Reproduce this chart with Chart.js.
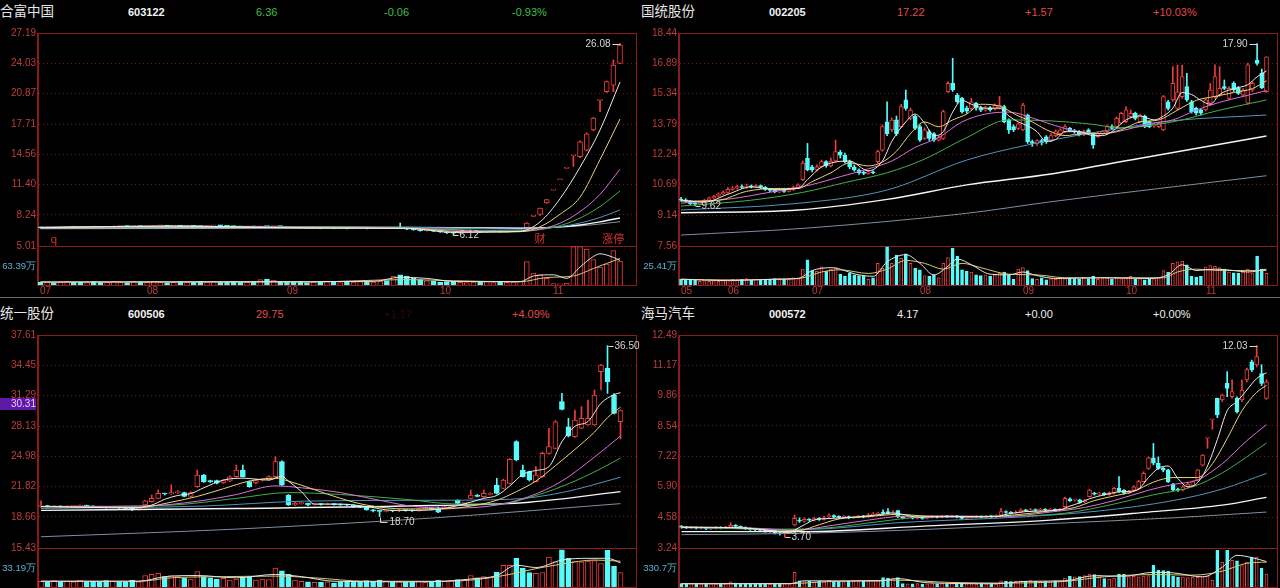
<!DOCTYPE html>
<html>
<head>
<meta charset="utf-8">
<title>四股K线</title>
<script src="https://cdn.jsdelivr.net/npm/chart.js@4.4.1/dist/chart.umd.min.js"></script>
<style>
  html, body { margin: 0; padding: 0; background: #000; }
  body { width: 1280px; height: 588px; position: relative; overflow: hidden; font-family: 'Liberation Sans Narrow', 'Liberation Sans', Arial, sans-serif; }
  canvas { position: absolute; }
  .tt { position: absolute; font-size: 11px; line-height: 14px; white-space: nowrap; }
  .nm { font-family: 'Noto Sans CJK SC', sans-serif; font-size: 13.5px; color: #e6e6e6; top: 4px; }
  .cd { color: #f2f2f2; font-weight: bold; }
  .up { color: #e24a4a; }
  .dn { color: #41be4b; }
  .fl { color: #eeeeee; }
  .hid { color: #2e0707; }
</style>
</head>
<body>

<!-- 标题行 -->
<div class="tt nm" style="left:0px;top:3px">合富中国</div>
<div class="tt cd" style="left:128px;top:5px">603122</div>
<div class="tt dn" style="left:256px;top:5px">6.36</div>
<div class="tt dn" style="left:384px;top:5px">-0.06</div>
<div class="tt dn" style="left:512px;top:5px">-0.93%</div>

<div class="tt nm" style="left:641px;top:3px">国统股份</div>
<div class="tt cd" style="left:769px;top:5px">002205</div>
<div class="tt up" style="left:897px;top:5px">17.22</div>
<div class="tt up" style="left:1025px;top:5px">+1.57</div>
<div class="tt up" style="left:1153px;top:5px">+10.03%</div>

<div class="tt nm" style="left:0px;top:305px">统一股份</div>
<div class="tt cd" style="left:128px;top:307px">600506</div>
<div class="tt up" style="left:256px;top:307px">29.75</div>
<div class="tt hid" style="left:384px;top:307px">+1.17</div>
<div class="tt up" style="left:512px;top:307px">+4.09%</div>

<div class="tt nm" style="left:641px;top:305px">海马汽车</div>
<div class="tt cd" style="left:769px;top:307px">000572</div>
<div class="tt fl" style="left:897px;top:307px">4.17</div>
<div class="tt fl" style="left:1025px;top:307px">+0.00</div>
<div class="tt fl" style="left:1153px;top:307px">+0.00%</div>

<div style="position:absolute;left:0;top:297px;width:1280px;height:1px;background:#6d6d6d"></div>

<canvas id="pc1" width="640" height="227" style="left:0px;top:26px"></canvas>
<canvas id="vc1" width="640" height="53" style="left:0px;top:246px"></canvas>
<canvas id="pc2" width="640" height="227" style="left:641px;top:26px"></canvas>
<canvas id="vc2" width="640" height="53" style="left:641px;top:246px"></canvas>
<canvas id="pc3" width="640" height="227" style="left:0px;top:328px"></canvas>
<canvas id="vc3" width="640" height="53" style="left:0px;top:548px"></canvas>
<canvas id="pc4" width="640" height="227" style="left:641px;top:328px"></canvas>
<canvas id="vc4" width="640" height="53" style="left:641px;top:548px"></canvas>

<div class="tt" style="left:0px;top:398px;width:36px;height:12px;line-height:12px;font-size:10px;background:#5e1aa6;color:#e9c8ff;text-align:right">30.31</div>

<script>
// ===== 合富中国 603122 =====
const p1Ticks = [5.01, 8.24, 11.40, 14.56, 17.71, 20.87, 24.03, 27.19];
// [开, 收, 高, 低]
const p1Candles = [
  [6.95,6.90,7.00,6.85],[6.90,6.92,6.98,6.86],[6.92,6.88,6.95,6.84],[6.88,6.95,7.00,6.86],[6.95,7.02,7.06,6.92],
  [7.02,6.98,7.05,6.95],[6.98,6.96,7.02,6.92],[6.96,7.00,7.04,6.93],[7.00,6.97,7.03,6.94],[6.97,6.95,7.00,6.92],
  [6.95,6.99,7.02,6.93],[6.99,7.05,7.10,6.97],[7.05,7.08,7.12,7.02],[7.08,7.03,7.10,7.00],[7.03,7.06,7.10,7.01],
  [7.06,7.02,7.08,6.99],[7.02,7.04,7.07,7.00],[7.04,7.10,7.14,7.02],[7.10,7.12,7.16,7.07],[7.12,7.08,7.15,7.05],
  [7.08,7.11,7.14,7.06],[7.11,7.09,7.13,7.06],[7.09,7.12,7.15,7.07],[7.12,7.06,7.14,7.03],[7.06,7.04,7.09,7.01],
  [7.04,7.08,7.10,7.02],[7.08,7.15,7.20,7.06],[7.15,7.12,7.18,7.08],[7.12,7.05,7.14,7.02],[7.05,7.02,7.08,6.99],
  [7.02,7.00,7.05,6.97],[7.00,7.03,7.06,6.98],[7.03,7.01,7.05,6.98],[7.01,7.04,7.07,6.99],[7.04,7.02,7.06,7.00],
  [7.02,7.05,7.08,7.00],[7.05,7.03,7.07,7.00],[7.03,6.98,7.05,6.95],[6.98,6.92,7.00,6.88],[6.92,6.88,6.95,6.85],
  [6.88,6.85,6.92,6.82],[6.85,6.87,6.90,6.82],[6.87,6.84,6.90,6.80],[6.84,6.86,6.89,6.81],[6.86,6.83,6.88,6.80],
  [6.83,6.85,6.88,6.80],[6.85,6.82,6.87,6.79],[6.82,6.84,6.87,6.80],[6.84,6.86,6.89,6.81],[6.86,6.83,6.88,6.80],
  [6.83,6.85,6.88,6.81],[6.85,6.88,6.92,6.83],[6.88,6.86,6.91,6.84],[6.86,6.90,6.95,6.84],[6.90,6.88,7.40,6.85],
  [6.88,6.75,6.90,6.72],[6.75,6.68,6.78,6.65],[6.68,6.60,6.70,6.55],[6.60,6.62,6.66,6.56],[6.62,6.55,6.64,6.50],
  [6.55,6.48,6.57,6.42],[6.48,6.40,6.50,6.30],[6.40,6.35,6.45,6.12],[6.35,6.42,6.46,6.32],[6.42,6.45,6.50,6.38],
  [6.45,6.48,6.52,6.42],[6.48,6.46,6.52,6.42],[6.46,6.50,6.54,6.43],[6.50,6.52,6.56,6.47],[6.52,6.49,6.55,6.45],
  [6.49,6.53,6.57,6.46],[6.53,6.55,6.60,6.50],[6.55,6.58,6.62,6.52],[6.90,7.40,7.45,6.85],[8.10,8.14,8.14,8.05],
  [8.30,8.95,8.95,8.20],[9.50,9.85,9.85,9.45],[10.83,10.83,10.83,10.83],[11.91,11.91,11.91,11.91],[13.10,13.10,13.10,13.10],
  [14.41,14.41,14.45,13.30],[14.30,15.85,15.95,14.20],[15.00,16.68,16.80,14.90],[17.10,18.34,18.40,17.00],[20.17,20.17,20.20,19.00],
  [21.08,22.12,22.20,21.00],[21.77,23.86,24.38,21.08],[24.03,25.94,26.08,24.00]
];
const p1Vol = [
  9,11,8,10,12,9,10,8,11,9, 10,12,9,8,11,10,9,12,10,8, 9,11,10,9,12,10,11,9,10,12,
  10,9,11,18,20,16,12,10,9,11, 8,10,9,11,10,8,9,10,11,9, 10,12,15,30,34,30,22,18,14,12,
  10,11,12,9,8,10,9,11,8,10, 9,10,12,78,40,35,22,5,4,6, 128,128,120,85,60,70,115,80
];
const p1Ma5 = [[0,6.93],[20,7.09],[40,6.88],[55,6.85],[62,6.42],[68,6.48],[72,6.54],[75,7.52],[78,9.94],[81,13.22],[84,17.09],[87,22.09]];
const p1Ma10 = [[0,6.93],[20,7.08],[40,6.90],[55,6.84],[63,6.50],[68,6.46],[72,6.50],[75,7.01],[78,8.32],[81,10.10],[84,14.01],[87,18.24]];
const p1Ma20 = [[0,6.94],[20,7.06],[40,6.97],[55,6.86],[65,6.58],[72,6.52],[75,6.76],[78,7.39],[81,8.59],[84,10.39],[87,13.01]];
const p1Ma30 = [[0,6.95],[20,7.03],[40,7.01],[55,6.88],[65,6.66],[72,6.60],[75,6.72],[78,7.13],[81,7.92],[84,9.12],[87,10.74]];
const p1Ma60 = [[0,6.97],[20,6.99],[40,7.02],[55,6.96],[65,6.84],[72,6.76],[75,6.82],[78,7.02],[81,7.40],[84,7.98],[87,8.76]];
const p1Ma120 = [[0,6.90],[20,6.92],[40,6.95],[55,6.95],[65,6.90],[72,6.86],[75,6.90],[78,7.00],[81,7.20],[84,7.52],[87,7.93]];
const p1Ma250 = [[0,6.80],[20,6.83],[40,6.86],[55,6.88],[65,6.88],[72,6.87],[75,6.90],[78,6.98],[81,7.10],[84,7.30],[87,7.55]];
const p1VolMa5 = [[0,10],[30,11],[50,12],[54,26],[58,22],[62,12],[72,11],[74,30],[77,34],[79,22],[81,60],[83,95],[84,104],[86,92],[87,82]];
const p1VolMa10 = [[0,10],[40,10],[55,18],[62,14],[72,11],[76,25],[80,30],[83,55],[85,72],[87,88]];
const p1High = [87, 26.08];
const p1Low = [62, 6.12];
const p1EventIdx = [2, 75, 86];
const p1EventText = ['q', '财', '涨停'];
const p1MonthIdx = [0, 16, 37, 60, 77];
const p1MonthText = ['07', '08', '09', '10', '11'];
const p1VolTick = 63.39, p1VolMax = 130;

// ===== 国统股份 002205 =====
const p2Ticks = [7.56, 9.14, 10.69, 12.24, 13.79, 15.34, 16.89, 18.44];
const p2Candles = [
  [9.95,9.90,10.05,9.85],[9.92,9.85,9.98,9.80],[9.85,9.72,9.88,9.68],[9.72,9.70,9.78,9.62],[9.70,9.82,9.86,9.66],
  [9.82,9.90,9.95,9.78],[9.90,10.02,10.06,9.86],[10.02,10.10,10.15,9.98],[10.10,10.22,10.28,10.05],[10.22,10.30,10.38,10.18],
  [10.30,10.45,10.55,10.26],[10.45,10.52,10.60,10.40],[10.52,10.60,10.66,10.46],[10.60,10.55,10.68,10.50],[10.55,10.62,10.72,10.50],
  [10.62,10.58,10.68,10.52],[10.58,10.64,10.70,10.54],[10.64,10.56,10.68,10.50],[10.56,10.45,10.60,10.40],[10.45,10.40,10.50,10.34],
  [10.40,10.32,10.46,10.28],[10.32,10.38,10.44,10.28],[10.38,10.35,10.42,10.30],[10.35,10.45,10.52,10.32],[10.45,10.55,10.62,10.40],
  [10.55,10.68,10.74,10.50],[10.95,11.80,11.90,10.90],[12.04,11.44,12.80,11.40],[11.60,11.44,11.68,11.35],[11.44,11.60,11.70,11.38],
  [11.60,11.87,11.95,11.55],[11.87,11.65,11.92,11.58],[11.65,11.90,12.05,11.60],[11.90,12.38,12.97,11.85],[12.35,12.20,12.45,12.05],
  [12.20,11.87,12.30,11.80],[11.87,11.60,11.95,11.50],[11.60,11.44,11.70,11.38],[11.44,11.30,11.50,11.22],[11.30,11.27,11.38,11.20],
  [11.27,11.35,11.42,11.22],[11.35,11.30,11.40,11.25],[11.87,12.38,12.45,11.80],[12.46,13.66,13.75,12.40],[13.90,13.30,14.93,13.20],
  [13.49,13.99,14.10,13.40],[14.00,13.30,14.20,13.20],[13.66,14.68,14.80,13.60],[15.02,14.59,15.53,14.50],[14.08,14.50,14.60,14.00],
  [14.20,13.57,14.25,13.50],[13.66,12.97,13.75,12.90],[13.06,13.50,13.60,13.00],[13.40,13.05,13.48,12.95],[13.30,12.97,13.35,12.90],
  [12.97,13.10,13.20,12.92],[13.06,14.42,14.50,13.00],[15.44,15.87,15.95,15.40],[15.87,15.53,17.15,15.45],[15.27,14.93,15.35,14.85],
  [15.10,14.42,15.15,14.35],[14.60,14.45,14.70,14.35],[14.59,14.93,15.10,14.50],[14.85,14.60,14.90,14.50],[14.60,14.50,14.70,14.42],
  [14.50,14.62,14.70,14.45],[14.62,14.52,14.68,14.45],[14.55,14.75,14.82,14.50],[14.60,14.75,15.20,14.55],[14.68,13.91,14.75,13.85],
  [14.00,13.49,14.05,13.31],[13.66,13.49,13.75,13.40],[13.57,13.80,13.85,13.50],[13.49,14.76,14.85,13.45],[14.25,12.89,14.30,12.80],
  [12.89,12.80,12.97,12.65],[12.80,12.95,13.00,12.70],[12.95,12.85,13.02,12.72],[13.14,12.89,13.20,12.80],[12.95,13.20,13.30,12.90],
  [13.20,13.40,13.49,13.14],[13.30,13.49,13.55,13.25],[13.40,13.66,13.75,13.35],[13.57,13.45,13.62,13.40],[13.45,13.40,13.52,13.32],
  [13.40,13.23,13.45,13.18],[13.23,13.40,13.48,13.20],[13.49,13.31,13.55,13.25],[13.31,12.72,13.35,12.55],[13.14,13.31,13.40,13.10],
  [13.31,13.40,13.45,13.25],[13.40,13.66,13.75,13.35],[13.66,13.57,13.75,13.50],[13.66,14.08,14.15,13.60],[13.83,14.34,14.40,13.80],
  [13.91,14.51,14.68,13.85],[14.17,14.34,14.51,14.10],[14.34,14.08,14.40,14.00],[13.91,14.25,14.30,13.85],[14.20,13.66,14.25,13.60],
  [13.91,13.66,13.95,13.60],[13.70,13.75,13.80,13.62],[13.66,13.83,13.90,13.60],[13.49,15.19,15.25,13.45],[14.93,14.59,15.00,14.50],
  [15.02,15.87,16.72,14.95],[14.59,15.44,16.80,14.50],[15.19,16.21,16.80,15.10],[15.70,15.02,16.38,14.95],[14.93,14.42,15.00,14.35],
  [14.59,14.35,14.65,14.25],[14.51,14.34,14.55,14.25],[14.51,15.02,15.10,14.45],[14.85,15.53,15.87,14.80],[15.19,16.21,16.81,15.10],
  [15.27,15.61,16.72,15.20],[15.70,15.61,16.04,15.55],[15.10,15.61,15.70,15.02],[15.87,15.53,15.95,15.45],[15.61,15.36,15.70,15.30],
  [15.27,15.53,15.60,15.20],[14.85,16.81,16.90,14.80],[15.53,15.87,15.95,15.45],[17.06,16.89,17.90,16.80],[16.38,15.65,16.60,15.60],
  [15.44,17.22,17.23,15.40]
];
const p2Vol = [
  8,7,8,7,5,6,5,6,5,6, 7,8,7,8,9,7,8,8,7,8, 9,9,8,9,10,9,22,35,20,19,
  25,19,22,24,15,12,16,14,13,12, 8,10,30,23,53,30,41,37,43,30, 23,21,13,12,14,10,30,38,51,40,
  21,19,18,14,13,14,12,14,16,18, 14,8,22,24,20,9,8,10,7,9, 8,10,9,10,9,8,11,9,12,8,
  9,10,8,11,9,10,12,8,9,7, 8,9,10,20,18,30,32,33,28,12, 11,12,25,27,26,24,22,18,17,16,
  18,22,17,40,22,16
];
const p2Ma5 = [[0,9.90],[5,9.80],[10,10.20],[15,10.58],[20,10.45],[25,10.50],[27,10.95],[30,11.60],[33,11.85],[36,11.90],[40,11.40],[43,11.90],[45,12.90],[48,13.90],[50,14.30],[52,13.84],[54,13.20],[56,13.40],[58,14.40],[60,15.00],[62,14.80],[65,14.60],[68,14.60],[70,14.20],[72,13.90],[74,13.70],[76,13.40],[78,12.90],[80,13.00],[82,13.40],[85,13.40],[88,13.20],[90,13.20],[92,13.40],[95,14.00],[98,14.20],[101,14.00],[103,14.20],[105,14.60],[107,15.40],[109,15.30],[111,15.00],[113,14.80],[115,15.30],[118,15.60],[121,15.80],[123,16.20],[125,16.50]];
const p2Ma10 = [[0,9.85],[8,9.90],[14,10.35],[20,10.50],[25,10.50],[28,10.85],[32,11.30],[36,11.80],[40,11.65],[43,11.85],[46,12.40],[49,13.30],[52,13.90],[55,13.65],[58,14.00],[61,14.30],[64,14.80],[68,14.70],[72,14.20],[75,13.90],[78,13.50],[82,13.20],[86,13.30],[90,13.30],[94,13.50],[98,13.90],[102,14.00],[106,14.50],[110,15.00],[114,15.20],[118,15.40],[122,15.60],[125,16.00]];
const p2Ma20 = [[0,9.75],[10,9.95],[20,10.35],[28,10.70],[34,11.10],[40,11.50],[45,11.90],[50,12.60],[55,13.10],[60,13.90],[65,14.30],[70,14.40],[75,14.10],[80,13.70],[85,13.40],[90,13.30],[95,13.50],[100,13.80],[105,14.00],[110,14.50],[115,14.90],[120,15.20],[125,15.50]];
const p2Ma30 = [[0,9.60],[15,9.90],[26,10.30],[35,10.80],[44,11.30],[52,12.00],[61,13.10],[70,14.00],[79,13.95],[87,13.80],[94,13.60],[105,13.90],[115,14.50],[125,15.02]];
const p2Ma60 = [[0,9.40],[25,9.74],[44,10.42],[61,11.95],[74,12.72],[96,13.66],[105,13.96],[125,14.25]];
const p2Ma120 = [[0,9.26],[25,9.40],[44,9.94],[61,10.68],[79,11.24],[96,11.95],[125,13.18]];
const p2Ma250 = [[0,8.12],[26,8.46],[61,9.23],[79,9.82],[125,11.15]];
const p2VolMa5 = [[0,8],[10,6],[20,8],[25,9],[28,20],[32,24],[38,14],[41,12],[44,32],[48,42],[51,30],[54,14],[57,26],[59,36],[62,28],[66,15],[70,14],[73,18],[76,13],[80,9],[90,10],[100,9],[104,14],[107,28],[110,20],[114,22],[118,20],[121,18],[125,22]];
const p2VolMa10 = [[0,8],[10,7],[20,8],[26,10],[30,18],[34,21],[40,16],[44,22],[48,34],[52,30],[56,22],[60,30],[64,24],[70,15],[76,14],[82,10],[95,10],[103,10],[106,18],[110,22],[115,20],[120,20],[125,20]];
const p2High = [123, 17.90];
const p2Low = [3, 9.62];
const p2MonthIdx = [0, 10, 28, 51, 73, 95, 112];
const p2MonthText = ['05', '06', '07', '08', '09', '10', '11'];
const p2VolTick = 25.41, p2VolMax = 54;

// ===== 统一股份 600506 =====
const p3Ticks = [15.43, 18.66, 21.82, 24.98, 28.13, 31.29, 34.45, 37.61];
const p3Candles = [
  [19.75,19.80,20.35,19.65],[19.80,19.75,19.88,19.68],[19.75,19.78,19.85,19.70],[19.78,19.72,19.82,19.66],[19.72,19.76,19.80,19.68],
  [19.76,19.80,19.86,19.70],[19.80,19.85,19.92,19.75],[19.85,19.78,19.90,19.72],[19.78,19.72,19.82,19.66],[19.72,19.68,19.76,19.62],
  [19.68,19.65,19.72,19.58],[19.65,19.70,19.75,19.60],[19.70,19.62,19.74,19.56],[19.62,19.55,19.66,19.48],[19.55,19.40,19.58,19.32],
  [19.40,19.60,19.65,19.38],[19.91,20.35,20.40,19.85],[20.25,20.60,20.95,20.20],[20.60,21.12,21.47,20.55],[21.10,21.05,21.15,20.95],
  [21.05,21.20,22.00,21.00],[21.20,21.30,21.40,21.10],[21.19,20.80,21.25,20.75],[20.80,21.19,21.30,20.75],[21.82,23.03,23.55,21.75],
  [23.03,22.34,23.10,22.25],[22.40,22.34,22.50,22.25],[22.44,22.17,22.50,22.10],[22.20,22.44,22.55,22.15],[22.40,22.85,22.95,22.35],
  [22.86,23.55,24.07,22.80],[23.55,22.86,24.07,22.80],[22.34,21.82,22.40,21.75],[22.20,22.50,22.60,22.10],[22.50,22.55,22.65,22.40],
  [22.55,22.86,22.95,22.50],[22.86,24.42,24.94,22.80],[24.42,21.99,24.50,21.90],[20.95,19.91,21.00,19.85],[19.91,20.10,20.18,19.85],
  [20.05,20.15,20.22,19.98],[20.08,19.91,20.12,19.85],[19.95,19.98,20.05,19.90],[19.98,19.96,20.03,19.90],[19.96,19.99,20.10,19.92],
  [19.99,19.95,20.04,19.90],[19.95,19.92,20.00,19.86],[19.92,19.90,19.98,19.85],[19.90,19.70,19.95,19.65],[19.70,19.68,19.75,19.62],
  [19.70,19.39,19.75,19.35],[19.39,19.30,19.45,19.20],[19.30,19.25,19.35,18.70],[19.25,19.30,19.38,19.18],[19.30,19.28,19.36,19.20],
  [19.28,19.35,19.42,19.22],[19.35,19.32,19.40,19.26],[19.35,19.30,19.40,19.25],[19.30,19.45,19.52,19.26],[19.45,19.50,19.58,19.40],
  [19.50,19.45,19.60,19.40],[19.50,19.15,19.70,19.10],[19.60,19.73,19.80,19.55],[19.73,19.75,19.82,19.68],[20.40,20.08,20.45,20.00],
  [20.08,20.10,20.15,20.02],[20.60,20.95,21.47,20.55],[20.95,20.80,21.00,20.75],[20.77,21.12,21.47,20.70],[21.00,21.12,21.20,20.95],
  [21.99,21.12,22.69,21.05],[21.64,22.51,22.60,21.60],[22.16,24.66,24.75,22.10],[26.50,24.60,26.60,24.50],[23.55,22.86,24.07,22.80],
  [23.38,22.51,23.45,22.40],[22.34,23.03,23.90,22.30],[22.86,25.29,25.40,22.80],[25.29,25.98,27.90,25.20],[25.81,28.58,28.70,25.75],
  [30.67,29.87,31.53,29.80],[28.06,27.09,28.93,27.00],[27.02,28.76,29.80,26.95],[27.90,28.93,30.15,27.85],[28.24,28.93,30.84,28.20],
  [28.24,31.36,31.88,28.20],[33.79,34.49,34.55,31.88],[34.14,32.75,36.50,31.53],[31.36,29.45,31.50,29.40],[28.58,29.75,29.80,26.80]
];
const p3Vol = [
  10,9,11,8,10,9,12,8,10,9,11,10,9,8,12,9, 20,22,24,18, 20,19,16,14, 27, 18,16,14,15,12, 14,17, 18,12,14,13,
  33,28,22, 12,10,9,8, 8,9,7,8,10,9,8,11,9,12,10,8,9, 8, 9,10,8,9,12,10,
  11,13,12,20,16,18,17,26,38,38,50,33,25,24,25,52,44,65,50,45,44,45,46,41,64,36,25
];
const p3Ma5 = [[0,19.75],[14,19.60],[17,19.90],[19,20.50],[21,20.90],[23,21.10],[25,21.70],[28,22.50],[31,22.70],[33,22.60],[35,22.50],[37,22.90],[38,22.40],[40,21.30],[42,20.00],[46,20.00],[50,19.75],[54,19.35],[58,19.35],[62,19.55],[64,19.85],[66,20.20],[68,20.60],[70,20.90],[72,21.90],[74,23.10],[76,23.50],[78,23.90],[80,26.50],[82,28.10],[84,28.60],[86,30.50],[88,31.40],[89,31.60]];
const p3Ma10 = [[0,19.75],[15,19.65],[20,20.20],[24,20.80],[28,21.60],[32,22.40],[36,22.70],[38,22.40],[42,21.50],[46,20.60],[50,19.90],[56,19.50],[62,19.50],[66,19.80],[70,20.40],[73,21.30],[76,22.40],[79,24.00],[82,25.70],[85,27.50],[87,29.00],[89,30.10]];
const p3Ma20 = [[0,19.75],[16,19.80],[24,20.30],[30,21.00],[36,21.90],[40,21.70],[46,21.20],[52,20.40],[58,19.70],[64,19.60],[70,19.90],[75,20.80],[80,22.40],[85,24.90],[89,27.10]];
const p3Ma30 = [[0,19.70],[20,19.90],[30,20.60],[38,21.20],[46,21.00],[56,20.50],[64,20.00],[70,20.00],[76,20.90],[82,22.40],[86,23.70],[89,24.80]];
const p3Ma60 = [[0,19.55],[25,19.80],[40,20.30],[60,20.40],[72,20.50],[80,21.20],[89,22.80]];
const p3Ma120 = [[0,19.35],[30,19.55],[60,19.85],[75,20.20],[89,21.30]];
const p3Ma250 = [[0,16.60],[30,17.40],[60,18.55],[89,20.05]];
const p3VolMa5 = [[0,10],[15,10],[19,18],[24,20],[30,16],[36,22],[40,18],[45,10],[56,9],[62,10],[66,14],[70,20],[73,38],[76,34],[80,47],[84,50],[87,50],[89,42]];
const p3VolMa10 = [[0,10],[15,10],[20,16],[28,18],[36,19],[42,16],[50,10],[60,10],[66,12],[72,22],[76,32],[80,40],[85,47],[89,45]];
const p3High = [87, 36.50];
const p3Low = [52, 18.70];
const p3VolTick = 33.19, p3VolMax = 68;

// ===== 海马汽车 000572 =====
const p4Ticks = [3.24, 4.58, 5.90, 7.22, 8.54, 9.86, 11.17, 12.49];
const p4Candles = [
  [4.17,4.15,4.22,4.10],[4.15,4.12,4.18,4.08],[4.12,4.14,4.18,4.08],[4.14,4.10,4.16,4.06],[4.10,4.12,4.16,4.06],
  [4.12,4.08,4.14,4.04],[4.08,4.10,4.14,4.04],[4.10,4.13,4.17,4.06],[4.13,4.11,4.16,4.07],[4.11,4.15,4.18,4.08],
  [4.15,4.22,4.34,4.12],[4.22,4.18,4.26,4.14],[4.18,4.14,4.20,4.10],[4.14,4.08,4.16,4.04],[4.08,4.05,4.12,4.00],
  [4.05,4.02,4.08,3.98],[4.02,4.00,4.06,3.95],[4.00,3.97,4.03,3.93],[3.97,3.99,4.02,3.92],[3.99,3.88,4.00,3.85],
  [3.88,3.86,3.92,3.80],[3.86,3.90,3.94,3.70],[3.90,3.95,3.98,3.86],[4.24,4.53,4.67,4.20],[4.45,4.40,4.55,4.35],
  [4.40,4.48,4.55,4.36],[4.48,4.45,4.52,4.40],[4.45,4.52,4.58,4.42],[4.52,4.48,4.56,4.44],[4.48,4.55,4.62,4.45],
  [4.60,4.64,4.72,4.56],[4.64,4.60,4.68,4.56],[4.60,4.57,4.64,4.52],[4.57,4.60,4.65,4.53],[4.60,4.55,4.63,4.51],
  [4.55,4.58,4.62,4.52],[4.58,4.62,4.66,4.55],[4.62,4.59,4.66,4.55],[4.60,4.68,4.74,4.58],[4.68,4.72,4.78,4.64],
  [4.70,4.75,4.80,4.66],[4.80,4.74,4.90,4.70],[4.82,4.75,4.95,4.72],[4.76,4.80,4.86,4.72],[4.86,4.60,4.88,4.56],
  [4.60,4.55,4.63,4.50],[4.55,4.58,4.62,4.52],[4.58,4.54,4.61,4.50],[4.54,4.56,4.60,4.50],[4.56,4.53,4.59,4.49],
  [4.53,4.57,4.60,4.50],[4.57,4.60,4.64,4.54],[4.60,4.58,4.63,4.55],[4.58,4.62,4.66,4.55],[4.62,4.60,4.65,4.57],
  [4.60,4.63,4.67,4.57],[4.63,4.59,4.66,4.55],[4.60,4.53,4.62,4.50],[4.53,4.56,4.60,4.50],[4.56,4.58,4.62,4.53],
  [4.58,4.60,4.64,4.55],[4.60,4.58,4.63,4.55],[4.58,4.62,4.66,4.55],[4.62,4.60,4.65,4.57],[4.60,4.64,4.68,4.57],
  [4.67,4.82,4.96,4.65],[4.80,4.78,4.85,4.74],[4.78,4.75,4.82,4.72],[4.75,4.80,4.86,4.72],[4.80,4.88,4.95,4.78],
  [4.88,4.85,4.92,4.82],[4.85,4.90,4.96,4.82],[4.90,4.87,4.94,4.84],[4.87,4.92,4.97,4.85],[4.92,4.89,4.95,4.86],
  [4.89,4.91,4.95,4.86],[4.91,4.88,4.94,4.85],[4.88,4.92,4.96,4.86],[5.03,5.40,5.45,5.00],[5.38,5.30,5.42,5.25],
  [5.32,5.32,5.36,5.28],[5.33,5.22,5.36,5.18],[5.25,5.30,5.34,5.20],[5.47,5.76,5.80,5.45],[5.62,5.58,5.66,5.54],
  [5.58,5.62,5.66,5.54],[5.62,5.56,5.65,5.52],[5.56,5.64,5.68,5.53],[5.61,5.83,5.88,5.58],[5.83,5.70,6.34,5.65],
  [5.75,5.62,5.78,5.58],[5.62,5.70,5.74,5.60],[5.75,5.90,5.95,5.72],[5.83,6.12,6.18,5.80],[6.12,6.48,6.55,6.10],
  [6.70,7.16,7.20,6.65],[7.16,6.92,7.78,6.85],[6.92,6.70,7.20,6.65],[6.70,6.62,6.75,6.55],[6.63,6.12,6.66,6.08],
  [6.02,5.76,6.05,5.72],[5.80,5.76,5.84,5.70],[5.76,5.90,5.95,5.72],[5.90,6.02,6.08,5.86],[5.95,6.12,6.15,5.90],
  [6.19,6.63,6.65,6.15],[6.84,7.28,7.30,6.80],[8.01,8.01,8.01,7.57],[8.81,8.81,8.81,8.40],[9.74,9.02,9.75,8.90],
  [9.67,9.88,9.92,9.60],[10.39,10.17,10.90,9.81],[9.81,10.03,10.54,9.75],[9.74,9.16,9.80,9.10],[9.67,10.10,10.54,9.60],
  [10.54,10.99,11.05,10.45],[11.33,10.97,11.40,10.90],[11.19,11.55,12.03,11.10],[10.82,10.39,11.20,10.30],[9.74,10.46,10.55,9.70]
];
const p4Vol = [
  60,55,62,50,58,52,60,55,58,62,90,70,58,52,55,50,48,55,52,60,55,62,58,
  258,
  110,95,100,90,105,95,120,100,95,90,105,100,95,110,105,115,120,
  165,160,150,165,
  60,55,58,62,50,55,60,58,62,55,60,58,65,55,60,58,62,55,60,58,
  110,100,95,105,110,100,115,105,110,100,95,110,105,
  160,190,180,185, 200,230,220,210, 150,140,160, 230,225, 185,190,180,195, 200, 383, 300,290,280, 190,
  170,180,165,175,170,185, 190, 120, 650,440,650,470,465,380,440,530,530,330,230
];
const p4Ma5 = [[0,4.14],[10,4.13],[16,4.05],[20,3.94],[22,3.90],[23,4.02],[25,4.25],[27,4.46],[30,4.52],[35,4.58],[40,4.68],[43,4.76],[45,4.70],[48,4.58],[55,4.60],[64,4.60],[66,4.70],[70,4.82],[77,4.90],[79,5.06],[81,5.20],[83,5.38],[86,5.55],[89,5.68],[91,5.70],[93,5.80],[95,6.30],[97,6.70],[99,6.80],[101,6.25],[103,5.90],[105,6.08],[107,6.80],[109,7.95],[111,9.20],[113,9.60],[115,10.10],[117,10.60],[119,10.85]];
const p4Ma10 = [[0,4.14],[12,4.12],[20,3.98],[24,4.00],[28,4.25],[32,4.50],[38,4.60],[44,4.70],[50,4.62],[60,4.59],[68,4.68],[76,4.88],[80,5.00],[84,5.30],[88,5.50],[92,5.70],[96,6.10],[100,6.30],[102,6.30],[105,6.30],[108,6.90],[110,7.60],[112,8.40],[114,9.20],[117,10.00],[119,10.30]];
const p4Ma20 = [[0,4.14],[15,4.10],[23,4.00],[30,4.20],[38,4.45],[45,4.62],[55,4.63],[65,4.60],[75,4.80],[82,5.00],[88,5.30],[95,5.75],[100,6.00],[105,6.20],[110,6.90],[115,7.90],[119,8.60]];
const p4Ma30 = [[0,4.15],[20,4.05],[30,4.12],[40,4.38],[50,4.60],[65,4.62],[78,4.75],[88,5.15],[96,5.55],[104,5.90],[110,6.50],[115,7.20],[119,7.80]];
const p4Ma60 = [[0,4.12],[25,4.05],[45,4.35],[70,4.60],[85,4.85],[100,5.30],[110,5.80],[119,6.48]];
const p4Ma120 = [[0,3.95],[25,3.95],[50,4.20],[75,4.45],[95,4.80],[110,5.10],[119,5.44]];
const p4Ma250 = [[0,3.82],[25,3.88],[50,4.05],[75,4.30],[100,4.55],[119,4.80]];
const p4VolMa5 = [[0,58],[22,58],[25,110],[40,105],[44,150],[50,75],[64,58],[70,100],[78,110],[84,200],[90,190],[96,260],[100,250],[106,180],[110,350],[113,560],[116,520],[119,450]];
const p4VolMa10 = [[0,58],[22,60],[30,95],[44,120],[55,80],[66,70],[78,100],[86,180],[96,220],[104,210],[110,280],[115,420],[119,440]];
const p4High = [117, 12.03];
const p4Low = [21, 3.70];
const p4VolTick = 330.7, p4VolMax = 690;

// ===== 样式 =====
const FONT = "'Liberation Sans Narrow','Liberation Sans',Arial,sans-serif";
const RED = '#f03c3c', CYAN = '#54fcfc', FRAME = '#8c1a1a', AXIS_TXT = '#c23b3b', GRID = 'rgba(120,28,28,0.85)';
const VOL_TXT = '#4fb6d8', MARK_TXT = '#d6d6d6';
const MA_COLORS = ['#ececec', '#e8d66c', '#dc6fdc', '#3fb04a', '#4f94c0', '#f4f4f4', '#7d8fa3'];
const MA_WIDTHS = [1, 1, 1, 1, 1, 1.4, 1];
const VMA_COLORS = ['#e4e4e4', '#d9c96e'];

function candleColor(k) { return k[1] >= k[0] ? RED : CYAN; }

const framePlugin = {
  id: 'frame',
  beforeDatasetsDraw(chart) {
    const a = chart.chartArea, ctx = chart.ctx;
    ctx.save();
    ctx.strokeStyle = FRAME; ctx.lineWidth = 1;
    ctx.strokeRect(a.left - 0.5, a.top + 0.5, a.right - a.left, a.bottom - a.top);
    ctx.restore();
  }
};

const markPlugin = {
  id: 'marks',
  afterDatasetsDraw(chart, args, opts) {
    const xs = chart.scales.x, ys = chart.scales.y, ctx = chart.ctx;
    ctx.save();
    ctx.font = '10px ' + FONT;
    ctx.textBaseline = 'middle';
    (opts.items || []).forEach(m => {
      const x = Math.round(xs.getPixelForValue(m.i)) + 0.5;
      const y = Math.round(ys.getPixelForValue(m.v)) + 0.5;
      ctx.strokeStyle = MARK_TXT; ctx.fillStyle = MARK_TXT; ctx.lineWidth = 1;
      ctx.beginPath();
      if (m.side === 'left') {
        ctx.moveTo(x, y); ctx.lineTo(x - 8, y); ctx.stroke();
        ctx.textAlign = 'right'; ctx.fillText(m.text, x - 10, y);
      } else if (m.side === 'down') {
        ctx.moveTo(x, y); ctx.lineTo(x, y + 5); ctx.lineTo(x + 7, y + 5); ctx.stroke();
        ctx.textAlign = 'left'; ctx.fillText(m.text, x + 9, y + 5);
      } else {
        ctx.moveTo(x, y); ctx.lineTo(x + 5, y); ctx.stroke();
        ctx.textAlign = 'left'; ctx.fillText(m.text, x + 6, y);
      }
    });
    ctx.fillStyle = '#e03030';
    ctx.textAlign = 'center';
    ctx.font = "11px 'Noto Sans CJK SC', sans-serif";
    (opts.events || []).forEach(ev => {
      ctx.fillText(ev.text, xs.getPixelForValue(ev.i), chart.chartArea.bottom - 7);
    });
    ctx.restore();
  }
};

// 月份标签画在量图下沿
const monthPlugin = {
  id: 'months',
  afterDraw(chart, args, opts) {
    const xs = chart.scales.x, ctx = chart.ctx;
    ctx.save();
    ctx.fillStyle = AXIS_TXT;
    ctx.font = '10px ' + FONT;
    ctx.textAlign = 'left';
    ctx.textBaseline = 'middle';
    (opts.idx || []).forEach((v, n) => {
      ctx.fillText(opts.text[n], Math.round(xs.getPixelForValue(v)), chart.chartArea.bottom + 6);
    });
    ctx.restore();
  }
};

function lineSets(list, colors, widths) {
  return list.map((pts, n) => ({
    type: 'line', data: pts.map(p => ({ x: p[0], y: p[1] })),
    borderColor: colors[n], borderWidth: widths ? widths[n] : 1,
    pointRadius: 0, cubicInterpolationMode: 'monotone', order: 1
  }));
}

function makePriceChart(id, candles, ticks, mas, xr, barW, marks, events) {
  const datasets = [
    { type: 'bar', data: candles.map((k, i) => ({ x: i, y: [k[3], k[2]] })),
      backgroundColor: candles.map(candleColor), barThickness: 1, grouped: false, order: 3 },
    { type: 'bar', data: candles.map((k, i) => ({ x: i, y: [k[0], k[1]] })),
      backgroundColor: candles.map(k => k[1] >= k[0] ? '#000' : CYAN),
      borderColor: candles.map(candleColor), borderWidth: 1, borderSkipped: false,
      barThickness: barW, minBarLength: 1, grouped: false, order: 2 }
  ].concat(lineSets(mas, MA_COLORS, MA_WIDTHS));
  return new Chart(document.getElementById(id), {
    type: 'bar',
    data: { datasets },
    options: {
      responsive: false, animation: false, events: [], devicePixelRatio: 1,
      layout: { padding: { left: 0, right: 3, top: 7, bottom: 7 } },
      plugins: { legend: { display: false }, tooltip: { enabled: false }, marks: { items: marks, events: events } },
      scales: {
        x: { type: 'linear', min: xr[0], max: xr[1], display: false, offset: false },
        y: {
          type: 'linear', position: 'left', min: ticks[0], max: ticks[ticks.length - 1],
          afterBuildTicks: s => { s.ticks = ticks.map(v => ({ value: v })); },
          afterFit: s => { s.width = 38; s.paddingTop = 0; s.paddingBottom = 0; },
          ticks: { color: AXIS_TXT, font: { family: FONT, size: 10 }, padding: 2, autoSkip: false, callback: v => v.toFixed(2) },
          grid: { color: GRID, drawTicks: false, lineWidth: 1 },
          border: { display: true, color: FRAME, dash: [1, 3] }
        }
      }
    },
    plugins: [framePlugin, markPlugin]
  });
}

function makeVolChart(id, candles, vols, vmas, xr, barW, vmax, vtick, monthIdx, monthText) {
  const datasets = [
    { type: 'bar', data: vols.map((v, i) => ({ x: i, y: v })),
      backgroundColor: vols.map((v, i) => candles[i] && candles[i][1] < candles[i][0] ? CYAN : '#000'),
      borderColor: vols.map((v, i) => candles[i] ? candleColor(candles[i]) : RED),
      borderWidth: 1, borderSkipped: 'start', barThickness: barW, grouped: false, order: 2 }
  ].concat(lineSets(vmas, VMA_COLORS));
  return new Chart(document.getElementById(id), {
    type: 'bar',
    data: { datasets },
    options: {
      responsive: false, animation: false, events: [], devicePixelRatio: 1,
      layout: { padding: { left: 0, right: 3, top: 0, bottom: 14 } },
      plugins: { legend: { display: false }, tooltip: { enabled: false }, months: { idx: monthIdx, text: monthText } },
      scales: {
        x: { type: 'linear', min: xr[0], max: xr[1], offset: false, display: false },
        y: {
          type: 'linear', position: 'left', min: 0, max: vmax,
          afterBuildTicks: s => { s.ticks = [{ value: vtick }]; },
          afterFit: s => { s.width = 38; s.paddingTop = 0; s.paddingBottom = 0; },
          ticks: { color: VOL_TXT, font: { family: FONT, size: 9.5 }, padding: 2, callback: v => v + '万' },
          grid: { display: false, drawTicks: false },
          border: { display: true, color: FRAME }
        }
      }
    },
    plugins: [framePlugin, monthPlugin]
  });
}

// 合富中国
makePriceChart('pc1', p1Candles, p1Ticks, [p1Ma5, p1Ma10, p1Ma20, p1Ma30, p1Ma60, p1Ma120, p1Ma250], [-0.375, 89.55], 5,
  [{ i: p1High[0], v: p1High[1], text: p1High[1].toFixed(2), side: 'left' },
   { i: p1Low[0], v: p1Low[1], text: p1Low[1].toFixed(2), side: 'right' }],
  p1EventIdx.map((i, n) => ({ i: i, text: p1EventText[n] })));
makeVolChart('vc1', p1Candles, p1Vol, [p1VolMa5, p1VolMa10], [-0.375, 89.55], 5, p1VolMax, p1VolTick, p1MonthIdx, p1MonthText);

// 国统股份
makePriceChart('pc2', p2Candles, p2Ticks, [p2Ma5, p2Ma10, p2Ma20, p2Ma30, p2Ma60, p2Ma120, p2Ma250], [-0.43, 127.46], 4,
  [{ i: p2High[0], v: p2High[1], text: p2High[1].toFixed(2), side: 'left' },
   { i: p2Low[0], v: p2Low[1], text: p2Low[1].toFixed(2), side: 'right' }], []);
makeVolChart('vc2', p2Candles, p2Vol, [p2VolMa5, p2VolMa10], [-0.43, 127.46], 3, p2VolMax, p2VolTick, p2MonthIdx, p2MonthText);

// 统一股份
makePriceChart('pc3', p3Candles, p3Ticks, [p3Ma5, p3Ma10, p3Ma20, p3Ma30, p3Ma60, p3Ma120, p3Ma250], [-0.46, 91.53], 5,
  [{ i: p3High[0], v: p3High[1], text: p3High[1].toFixed(2), side: 'right' },
   { i: p3Low[0], v: p3Low[1], text: p3Low[1].toFixed(2), side: 'down' }], []);
makeVolChart('vc3', p3Candles, p3Vol, [p3VolMa5, p3VolMa10], [-0.46, 91.53], 5, p3VolMax, p3VolTick, [], []);

// 海马汽车
makePriceChart('pc4', p4Candles, p4Ticks, [p4Ma5, p4Ma10, p4Ma20, p4Ma30, p4Ma60, p4Ma120, p4Ma250], [-0.51, 121.34], 4,
  [{ i: p4High[0], v: p4High[1], text: p4High[1].toFixed(2), side: 'left' },
   { i: p4Low[0], v: p4Low[1], text: p4Low[1].toFixed(2), side: 'right' }], []);
makeVolChart('vc4', p4Candles, p4Vol, [p4VolMa5, p4VolMa10], [-0.51, 121.34], 3, p4VolMax, p4VolTick, [], []);
</script>
</body>
</html>
